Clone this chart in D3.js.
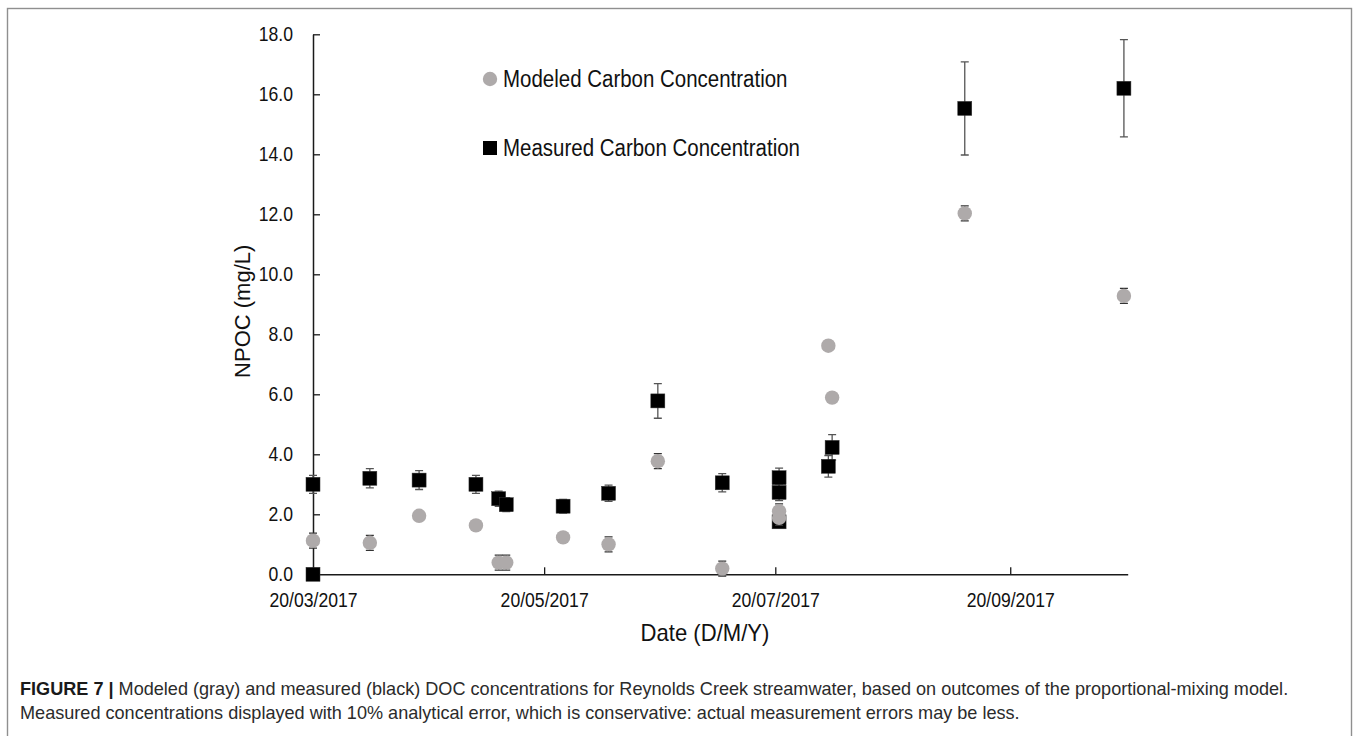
<!DOCTYPE html>
<html>
<head>
<meta charset="utf-8">
<script src="https://cdn.jsdelivr.net/npm/d3@7"></script>
<style>
  html, body { margin: 0; padding: 0; background: #fff; }
  svg { display: block; }
</style>
</head>
<body>
<svg id="chart" width="1360" height="736"></svg>
<script>
// Sampling dates (D/M/Y) and NPOC concentrations (mg/L)
const modeledDates  = ["20/03/2017","04/04/2017","17/04/2017","02/05/2017","08/05/2017","10/05/2017","25/05/2017","06/06/2017","19/06/2017","06/07/2017","21/07/2017","21/07/2017","03/08/2017","04/08/2017","08/09/2017","20/10/2017"];
const modeledValues = [1.12, 1.05, 1.95, 1.63, 0.39, 0.39, 1.23, 1.00, 3.77, 0.19, 2.10, 1.88, 7.62, 5.89, 12.03, 9.28];
const modeledErrors = [0.25, 0.25, 0, 0, 0.25, 0.25, 0, 0.25, 0.25, 0.25, 0.25, 0.25, 0, 0, 0.25, 0.25];

const measuredDates  = ["20/03/2017","20/03/2017","04/04/2017","17/04/2017","02/05/2017","08/05/2017","10/05/2017","25/05/2017","06/06/2017","19/06/2017","06/07/2017","21/07/2017","21/07/2017","21/07/2017","03/08/2017","04/08/2017","08/09/2017","20/10/2017"];
const measuredValues = [3.00, 0.00, 3.20, 3.14, 3.00, 2.52, 2.32, 2.27, 2.70, 5.78, 3.05, 3.22, 2.73, 1.75, 3.60, 4.23, 15.53, 16.20];
const measuredErrorFraction = 0.10; // 10% analytical error

const xTickLabels = ["20/03/2017","20/05/2017","20/07/2017","20/09/2017"];
const xDomainLabels = ["20/03/2017","21/10/2017"];
const yTickValues = [0, 2, 4, 6, 8, 10, 12, 14, 16, 18];

const seriesNames = ["Modeled Carbon Concentration", "Measured Carbon Concentration"];

const parseDate = d3.utcParse("%d/%m/%Y");
const fmtDate = d3.utcFormat("%d/%m/%Y");

const chartFont = "'Liberation Sans', Arial, Helvetica, sans-serif";
const modeledColor = "#aeaaaa";
const measuredColor = "#000000";

const svg = d3.select("#chart");

// figure frame
svg.append("rect")
  .attr("x", 7.5).attr("y", 8.5)
  .attr("width", 1344).attr("height", 780)
  .attr("fill", "#fff")
  .attr("stroke", "#8f8f8f").attr("stroke-width", 1.4);

const plot = { left: 313, right: 1127.7, top: 34.3, bottom: 574.3 };

const x = d3.scaleUtc()
  .domain(xDomainLabels.map(parseDate))
  .range([plot.left, plot.right]);

const y = d3.scaleLinear()
  .domain([0, 18])
  .range([plot.bottom, plot.top]);

// glyphs in the plot area are a little condensed
function condense(sel, f) {
  sel.each(function () {
    const len = this.getComputedTextLength();
    d3.select(this).attr("textLength", len * f).attr("lengthAdjust", "spacingAndGlyphs");
  });
}

// y axis
const yAxis = svg.append("g")
  .attr("transform", `translate(${plot.left},0)`)
  .call(d3.axisLeft(y).tickValues(yTickValues).tickFormat(d3.format(".1f"))
    .tickSizeInner(-7).tickSizeOuter(0).tickPadding(20));
yAxis.select(".domain").attr("stroke", "#1a1a1a").attr("stroke-width", 1.5);
yAxis.selectAll(".tick line").attr("stroke", "#1a1a1a").attr("stroke-width", 1.3);
yAxis.selectAll(".tick text")
  .attr("font-family", chartFont).attr("font-size", 20).attr("fill", "#111")
  .call(condense, 0.88);

// x axis
const xAxis = svg.append("g")
  .attr("transform", `translate(0,${plot.bottom})`)
  .call(d3.axisBottom(x).tickValues(xTickLabels.map(parseDate)).tickFormat(fmtDate)
    .tickSizeInner(-7).tickSizeOuter(0).tickPadding(19));
xAxis.select(".domain").attr("stroke", "#1a1a1a").attr("stroke-width", 1.5);
xAxis.selectAll(".tick line").attr("stroke", "#1a1a1a").attr("stroke-width", 1.3);
xAxis.selectAll(".tick text")
  .attr("font-family", chartFont).attr("font-size", 20).attr("fill", "#111")
  .call(condense, 0.88);

// axis titles
svg.append("text")
  .attr("transform", `translate(250,${(plot.top + plot.bottom) / 2 + 7}) rotate(-90)`)
  .attr("text-anchor", "middle")
  .attr("font-family", chartFont).attr("font-size", 22).attr("fill", "#111")
  .text("NPOC (mg/L)");

svg.append("text")
  .attr("x", 705).attr("y", 641)
  .attr("text-anchor", "middle")
  .attr("font-family", chartFont).attr("font-size", 24).attr("fill", "#111")
  .text("Date (D/M/Y)")
  .call(condense, 0.92);

const capW = 4;

// measured error bars (10% of value)
const measured = measuredDates.map((d, i) => ({ date: parseDate(d), value: measuredValues[i] }));
const modeled = modeledDates.map((d, i) => ({ date: parseDate(d), value: modeledValues[i], err: modeledErrors[i] }));

const mErr = svg.append("g").attr("stroke", "#555").attr("stroke-width", 1.3).attr("fill", "none");
measured.filter(d => d.value > 0).forEach(d => {
  const cx = x(d.date);
  const e = d.value * measuredErrorFraction;
  const y0 = y(d.value - e), y1 = y(d.value + e);
  mErr.append("path").attr("d",
    `M${cx},${y0}V${y1}M${cx - capW},${y1}H${cx + capW}M${cx - capW},${y0}H${cx + capW}`);
});

// measured markers
svg.append("g").selectAll("rect")
  .data(measured)
  .join("rect")
  .attr("x", d => x(d.date) - 7)
  .attr("y", d => y(d.value) - 7)
  .attr("width", 14).attr("height", 14)
  .attr("fill", measuredColor)
  .attr("stroke", "#333").attr("stroke-width", 0.5);

// modeled error bars
const gErr = svg.append("g").attr("stroke", "#333").attr("stroke-width", 1.3).attr("fill", "none");
modeled.filter(d => d.err > 0).forEach(d => {
  const cx = x(d.date);
  const y0 = y(d.value - d.err), y1 = y(d.value + d.err);
  gErr.append("path").attr("d",
    `M${cx},${y0}V${y1}M${cx - capW},${y1}H${cx + capW}M${cx - capW},${y0}H${cx + capW}`);
});

// modeled markers
svg.append("g").selectAll("circle")
  .data(modeled)
  .join("circle")
  .attr("cx", d => x(d.date))
  .attr("cy", d => y(d.value))
  .attr("r", 7.2)
  .attr("fill", modeledColor);

// legend
const legend = svg.append("g").attr("font-family", chartFont).attr("font-size", 23).attr("fill", "#111");
legend.append("circle").attr("cx", 490).attr("cy", 79).attr("r", 7.2).attr("fill", modeledColor);
legend.append("rect").attr("x", 483).attr("y", 141).attr("width", 14).attr("height", 14).attr("fill", measuredColor);
legend.append("text").attr("x", 503).attr("y", 87).text(seriesNames[0]).call(condense, 0.89);
legend.append("text").attr("x", 503).attr("y", 155.5).text(seriesNames[1]).call(condense, 0.89);

// caption
const capFont = "'Liberation Sans', Helvetica, Arial, sans-serif";
const cap1 = svg.append("text").attr("x", 20).attr("y", 695)
  .attr("font-family", capFont).attr("font-size", 18.1).attr("fill", "#2b2b2b");
cap1.append("tspan").attr("font-weight", "bold").attr("fill", "#1a1a1a").text("FIGURE 7 | ");
cap1.append("tspan").text("Modeled (gray) and measured (black) DOC concentrations for Reynolds Creek streamwater, based on outcomes of the proportional-mixing model.");
svg.append("text").attr("x", 20).attr("y", 719)
  .attr("font-family", capFont).attr("font-size", 18.1).attr("fill", "#2b2b2b")
  .text("Measured concentrations displayed with 10% analytical error, which is conservative: actual measurement errors may be less.");
</script>
</body>
</html>
